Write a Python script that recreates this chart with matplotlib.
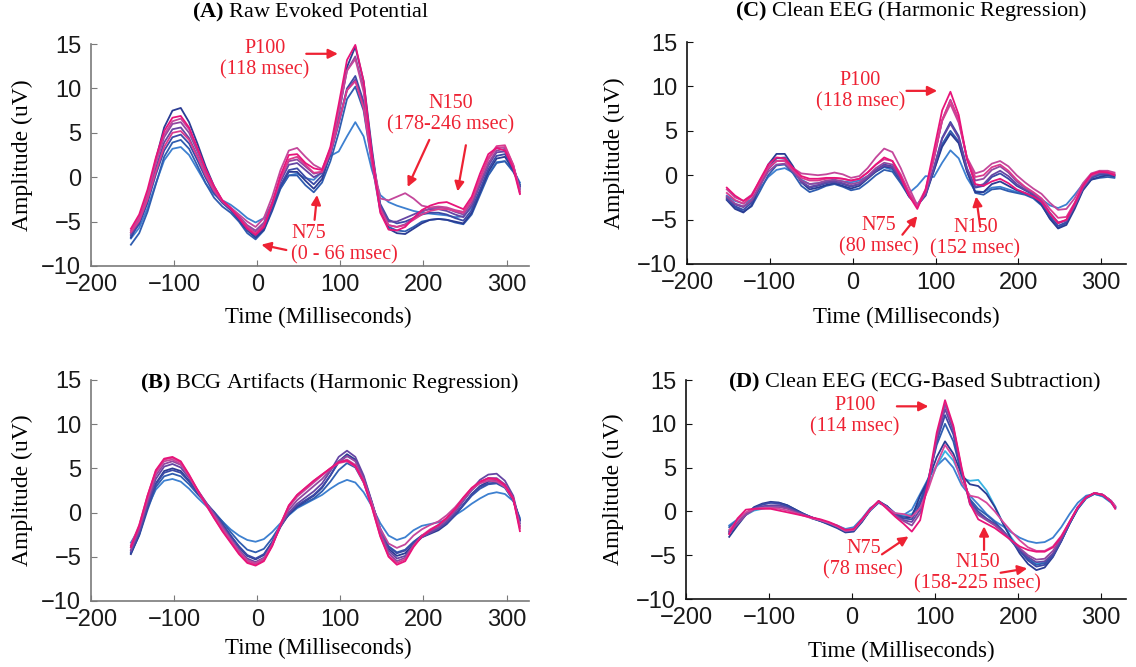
import matplotlib
matplotlib.use("Agg")
import matplotlib.pyplot as plt

plt.rcParams["mathtext.fontset"] = "custom"
plt.rcParams["mathtext.rm"] = "Liberation Serif"
plt.rcParams["mathtext.bf"] = "Liberation Serif:bold"

SANS = "Liberation Sans"
SERIF = "Liberation Serif"
RED = "#ee2233"

# sample times (ms) for panels A, B, C and for panel D
TIME = [-152, -142, -132, -122, -112, -102, -92, -82, -72, -62, -52, -42, -32, -22, -12, -2,
        8, 18, 28, 38, 48, 58, 68, 78, 88, 98, 108, 118, 128, 138, 148, 158, 168, 178, 188,
        198, 208, 218, 228, 238, 248, 258, 268, 278, 288, 298, 308, 316]
TIME_D = [-148, -138, -128, -118, -108, -98, -88, -78, -68, -58, -48, -38, -28, -18, -8, 2,
          12, 22, 32, 42, 52, 62, 72, 82, 92, 102, 112, 122, 132, 142, 152, 162, 172, 182, 192,
          202, 212, 222, 232, 242, 252, 262, 272, 282, 292, 302, 312, 317]

X_TICKS = [-200, -100, 0, 100, 200, 300]
Y_TICKS = [-10, -5, 0, 5, 10, 15]

# (A) raw evoked potential, one list per channel
RAW = [
    [-6.9, -5.7, -3.5, -0.7, 1.9, 3.2, 3.4, 2.5, 0.9, -0.7, -1.9, -2.6, -3.1, -3.8, -4.6, -5.1,
     -4.6, -3.0, -1.2, 0.2, 0.4, -0.1, -0.3, 0.6, 2.4, 2.9, 4.6, 6.2, 4.6, 0.8, -2.0, -2.8,
     -3.2, -3.5, -3.8, -4.0, -4.1, -4.2, -4.3, -4.5, -4.4, -3.4, -1.6, 0.3, 1.7, 1.8, 0.8, -0.6],
    [-7.6, -6.3, -3.9, -0.8, 2.3, 3.9, 4.2, 3.2, 1.3, -0.7, -2.3, -3.3, -4.0, -5.0, -6.3, -7.0,
     -6.0, -3.8, -1.3, 0.2, 0.2, -0.9, -1.7, -0.6, 1.8, 5.0, 8.8, 10.2, 7.5, 1.5, -3.8, -5.6,
     -6.0, -6.1, -5.6, -5.0, -4.8, -4.7, -4.8, -5.1, -5.3, -4.2, -2.0, 0.2, 1.6, 1.8, 0.6, -0.8],
    [-6.8, -5.0, -2.0, 2.0, 5.6, 7.5, 7.8, 6.2, 3.8, 1.2, -1.0, -2.7, -3.7, -4.8, -6.0, -6.8,
     -5.9, -3.6, -1.0, 0.6, 0.6, -0.4, -1.3, -0.2, 2.6, 7.0, 12.4, 14.7, 10.8, 3.2, -3.5, -5.8,
     -6.3, -6.4, -5.8, -5.2, -4.8, -4.7, -4.8, -5.0, -5.2, -4.0, -1.7, 0.6, 2.1, 2.3, 0.8, -1.0],
    [-6.6, -5.3, -2.9, 0.3, 3.0, 4.5, 4.8, 3.8, 1.9, -0.1, -1.8, -2.9, -3.7, -4.7, -5.9, -6.6,
     -5.7, -3.5, -0.9, 0.8, 1.0, 0.0, -0.8, 0.2, 2.6, 6.2, 10.0, 11.4, 8.5, 2.4, -3.0, -4.8,
     -5.2, -5.0, -4.6, -4.2, -4.0, -4.0, -4.2, -4.6, -4.9, -3.7, -1.4, 0.9, 2.4, 2.6, 1.0, -1.0],
    [-6.4, -5.0, -2.4, 1.0, 3.9, 5.4, 5.6, 4.4, 2.4, 0.2, -1.6, -2.8, -3.6, -4.5, -5.6, -6.2,
     -5.3, -3.1, -0.5, 1.4, 1.6, 0.8, 0.0, 0.5, 2.6, 6.0, 9.8, 11.0, 8.2, 2.2, -3.2, -5.0,
     -5.0, -4.6, -4.2, -3.8, -3.6, -3.6, -3.8, -4.2, -4.5, -3.2, -0.9, 1.3, 2.8, 2.9, 1.2, -1.2],
    [-6.2, -4.7, -2.0, 1.6, 4.5, 6.0, 6.2, 5.0, 2.9, 0.6, -1.3, -2.7, -3.5, -4.4, -5.4, -6.0,
     -5.1, -2.8, -0.1, 1.8, 2.0, 1.2, 0.4, 0.6, 3.0, 7.2, 12.0, 13.6, 10.0, 2.8, -3.4, -5.4,
     -5.6, -5.3, -4.6, -3.9, -3.5, -3.4, -3.5, -3.9, -4.2, -2.9, -0.6, 1.6, 3.0, 3.2, 1.3, -1.4],
    [-6.0, -4.5, -1.8, 1.7, 4.8, 6.3, 6.6, 5.4, 3.2, 0.8, -1.1, -2.6, -3.4, -4.2, -5.0, -5.6,
     -4.6, -2.2, 0.8, 3.0, 3.3, 2.3, 1.4, 0.9, 3.2, 7.4, 12.0, 13.3, 9.6, 2.2, -2.4, -2.6,
     -2.2, -1.8, -2.4, -3.2, -3.4, -3.3, -3.4, -3.7, -3.9, -2.5, -0.2, 2.0, 3.3, 3.4, 1.4, -1.6],
    [-6.2, -4.9, -2.5, 0.6, 3.4, 5.0, 5.2, 4.2, 2.3, 0.2, -1.5, -2.7, -3.5, -4.5, -5.6, -6.3,
     -5.4, -3.0, -0.2, 2.0, 2.3, 1.4, 0.5, 0.6, 2.8, 6.2, 9.8, 10.8, 7.8, 1.6, -3.6, -5.4,
     -5.6, -5.4, -4.8, -4.2, -3.8, -3.6, -3.6, -3.8, -4.0, -2.6, -0.1, 2.2, 3.5, 3.6, 1.4, -1.8],
    [-5.8, -4.2, -1.4, 2.2, 5.2, 6.7, 6.9, 5.6, 3.3, 0.9, -1.0, -2.6, -3.5, -4.6, -5.8, -6.5,
     -5.6, -3.0, 0.2, 2.5, 2.6, 1.6, 1.0, 0.8, 3.4, 8.2, 13.2, 14.9, 10.8, 2.5, -4.0, -5.9,
     -6.0, -5.6, -4.6, -3.7, -3.2, -2.9, -2.8, -3.2, -3.6, -2.2, 0.4, 2.6, 3.3, 3.0, 1.0, -1.9],
]

# (B) BCG artifacts estimated by harmonic regression
BCG = [
    [-3.4, -1.8, 0.6, 2.6, 3.6, 3.8, 3.5, 2.7, 1.7, 0.8, -0.1, -1.0, -1.9, -2.6, -3.1, -3.3,
     -3.0, -2.2, -1.2, -0.3, 0.5, 1.0, 1.5, 2.0, 2.7, 3.3, 3.7, 3.4, 2.3, 0.7, -1.2, -2.6,
     -3.1, -2.8, -2.0, -1.5, -1.3, -1.1, -0.8, -0.3, 0.3, 1.0, 1.6, 2.1, 2.3, 2.1, 1.3, -0.6],
    [-4.6, -2.6, 0.3, 2.9, 4.1, 4.4, 4.1, 3.2, 2.1, 1.1, 0.1, -1.0, -2.2, -3.3, -4.2, -4.5,
     -4.1, -2.9, -1.4, -0.2, 0.6, 1.1, 1.6, 2.4, 3.5, 4.8, 5.6, 5.1, 3.4, 0.9, -1.8, -3.8,
     -4.5, -4.2, -3.3, -2.6, -2.2, -1.8, -1.2, -0.3, 0.8, 1.9, 2.7, 3.2, 3.3, 2.8, 1.4, -0.8],
    [-4.7, -2.5, 0.6, 3.3, 4.7, 5.0, 4.7, 3.6, 2.3, 1.1, 0.0, -1.3, -2.6, -3.9, -4.9, -5.3,
     -4.8, -3.4, -1.6, -0.2, 0.7, 1.3, 1.9, 2.8, 4.2, 5.8, 6.6, 6.0, 4.0, 1.1, -2.0, -4.1,
     -4.9, -4.6, -3.6, -2.8, -2.4, -2.0, -1.3, -0.3, 0.9, 2.1, 3.0, 3.5, 3.6, 3.0, 1.5, -0.9],
    [-4.5, -2.4, 0.6, 3.2, 4.5, 4.8, 4.5, 3.5, 2.3, 1.1, 0.0, -1.3, -2.6, -3.8, -4.8, -5.2,
     -4.7, -3.3, -1.5, -0.1, 0.8, 1.4, 2.0, 2.9, 4.2, 5.7, 6.4, 5.9, 3.9, 1.1, -1.9, -3.9,
     -4.6, -4.3, -3.4, -2.6, -2.2, -1.8, -1.2, -0.3, 0.9, 2.0, 2.9, 3.3, 3.4, 2.9, 1.4, -0.9],
    [-4.3, -2.1, 1.0, 3.8, 5.2, 5.5, 5.1, 3.9, 2.5, 1.2, -0.1, -1.5, -2.9, -4.2, -5.2, -5.6,
     -5.1, -3.6, -1.6, 0.0, 1.0, 1.7, 2.4, 3.3, 4.7, 6.3, 7.0, 6.3, 4.2, 1.2, -2.0, -4.3,
     -5.2, -4.9, -3.7, -2.8, -2.3, -1.8, -1.0, 0.0, 1.3, 2.6, 3.7, 4.3, 4.4, 3.6, 1.9, -1.2],
    [-4.2, -1.9, 1.3, 4.2, 5.5, 5.8, 5.4, 4.1, 2.6, 1.2, -0.2, -1.6, -3.0, -4.3, -5.4, -5.8,
     -5.3, -3.7, -1.5, 0.3, 1.4, 2.2, 3.0, 3.8, 4.8, 5.8, 6.4, 5.8, 3.8, 1.0, -2.2, -4.6,
     -5.5, -5.1, -3.7, -2.7, -2.1, -1.6, -0.8, 0.2, 1.4, 2.5, 3.4, 3.9, 3.9, 3.2, 1.7, -1.5],
    [-3.9, -1.6, 1.6, 4.5, 5.8, 6.0, 5.5, 4.1, 2.5, 1.0, -0.4, -1.8, -3.1, -4.4, -5.4, -5.7,
     -5.2, -3.6, -1.3, 0.6, 1.8, 2.6, 3.4, 4.2, 5.0, 5.7, 6.0, 5.4, 3.6, 1.0, -1.8, -3.5,
     -4.0, -3.6, -2.6, -1.9, -1.4, -1.0, -0.3, 0.6, 1.7, 2.7, 3.3, 3.6, 3.5, 2.9, 1.5, -1.6],
    [-3.7, -1.4, 1.9, 4.7, 6.0, 6.2, 5.7, 4.2, 2.5, 0.9, -0.6, -2.0, -3.3, -4.6, -5.6, -5.9,
     -5.4, -3.7, -1.3, 0.8, 2.0, 2.8, 3.6, 4.3, 5.0, 5.6, 5.8, 5.2, 3.4, 0.6, -2.6, -4.9,
     -5.7, -5.3, -3.8, -2.6, -1.9, -1.4, -0.6, 0.4, 1.6, 2.7, 3.4, 3.8, 3.7, 3.0, 1.6, -1.8],
    [-3.9, -1.5, 1.9, 4.8, 6.1, 6.3, 5.8, 4.3, 2.6, 1.0, -0.6, -2.1, -3.4, -4.7, -5.7, -6.0,
     -5.5, -3.8, -1.4, 0.8, 2.0, 2.8, 3.6, 4.3, 5.0, 5.7, 5.9, 5.3, 3.5, 0.6, -2.7, -5.0,
     -5.9, -5.5, -3.9, -2.7, -2.0, -1.4, -0.6, 0.4, 1.7, 2.8, 3.5, 3.9, 3.8, 3.1, 1.6, -2.1],
]

# (C) clean EEG after harmonic regression
CLEAN_HR = [
    [-2.3, -2.9, -3.2, -2.7, -1.5, -0.2, 0.6, 0.8, 0.3, -0.5, -1.0, -0.9, -0.7, -0.6, -0.7, -0.8,
     -0.6, -0.1, 0.4, 0.9, 0.6, -0.6, -2.0, -1.2, -0.1, -0.2, 1.4, 2.8, 1.9, -0.3, -1.8, -1.9,
     -1.4, -1.3, -1.6, -1.9, -2.1, -2.3, -2.7, -3.4, -3.7, -3.3, -2.2, -1.0, -0.3, 0.0, 0.0, -0.2],
    [-2.6, -3.6, -4.1, -3.5, -1.8, 0.0, 1.1, 1.2, 0.2, -1.2, -1.9, -1.6, -1.2, -1.0, -1.3, -1.7,
     -1.5, -0.8, 0.0, 0.6, 0.4, -0.9, -2.4, -3.3, -2.0, 0.5, 3.5, 5.0, 3.8, 0.5, -2.0, -2.2,
     -1.6, -1.5, -1.8, -2.0, -2.2, -2.6, -3.4, -4.8, -5.9, -5.4, -3.6, -1.6, -0.5, -0.3, -0.2, -0.3],
    [-2.8, -3.8, -4.2, -3.4, -1.2, 1.2, 2.4, 2.4, 1.0, -0.8, -1.6, -1.4, -1.1, -0.9, -1.2, -1.5,
     -1.2, -0.4, 0.4, 1.0, 0.8, -0.6, -2.4, -3.4, -2.3, 0.5, 3.2, 4.7, 3.6, 0.4, -1.9, -1.9,
     -1.0, -0.7, -1.2, -1.7, -2.0, -2.4, -3.3, -4.9, -6.0, -5.6, -3.8, -1.7, -0.5, -0.2, 0.0, -0.1],
    [-2.7, -3.5, -3.9, -3.1, -1.2, 0.8, 1.9, 2.0, 0.8, -0.7, -1.4, -1.2, -0.9, -0.8, -1.0, -1.3,
     -1.0, -0.2, 0.6, 1.2, 1.0, -0.4, -2.2, -3.3, -2.2, 0.8, 4.2, 6.0, 4.4, 0.8, -1.4, -1.2,
     -0.2, 0.2, -0.4, -1.2, -1.7, -2.2, -3.1, -4.6, -5.7, -5.3, -3.5, -1.5, -0.3, 0.1, 0.1, 0.0],
    [-2.5, -3.3, -3.6, -2.9, -1.1, 0.7, 1.6, 1.7, 0.6, -0.8, -1.3, -1.1, -0.8, -0.7, -0.9, -1.2,
     -1.0, -0.3, 0.5, 1.1, 0.9, -0.5, -2.3, -3.4, -2.2, 0.8, 4.1, 5.8, 4.2, 0.7, -1.3, -1.0,
     0.0, 0.5, -0.1, -1.0, -1.6, -2.1, -2.9, -4.3, -5.4, -5.1, -3.4, -1.4, -0.2, 0.2, 0.2, 0.0],
    [-2.4, -3.2, -3.5, -2.8, -1.2, 0.4, 1.2, 1.3, 0.4, -0.6, -1.0, -0.9, -0.6, -0.5, -0.7, -1.0,
     -0.8, -0.1, 0.8, 1.4, 1.2, -0.2, -2.1, -3.5, -1.9, 1.8, 6.2, 8.5, 6.3, 1.8, -0.6, -0.4,
     0.6, 1.0, 0.3, -0.7, -1.4, -2.0, -2.8, -4.2, -5.3, -5.1, -3.4, -1.4, -0.1, 0.3, 0.3, 0.1],
    [-1.6, -2.5, -2.9, -2.2, -0.6, 0.9, 1.6, 1.6, 0.8, 0.2, 0.1, 0.0, 0.1, 0.3, 0.1, -0.3,
     -0.1, 0.8, 2.0, 3.0, 2.6, 0.8, -1.4, -3.4, -1.6, 2.0, 6.1, 8.0, 5.9, 2.0, 0.2, 0.5,
     1.3, 1.6, 1.0, 0.0, -0.8, -1.5, -2.1, -3.1, -3.9, -3.8, -2.6, -0.9, 0.2, 0.5, 0.5, 0.3],
    [-2.0, -2.8, -3.2, -2.4, -0.8, 0.8, 1.6, 1.6, 0.6, -0.3, -0.6, -0.6, -0.4, -0.3, -0.4, -0.6,
     -0.4, 0.3, 1.2, 1.8, 1.6, 0.1, -1.9, -3.6, -1.8, 1.9, 6.2, 8.4, 6.2, 1.9, -0.2, 0.0,
     0.9, 1.2, 0.5, -0.5, -1.3, -1.9, -2.6, -3.8, -4.8, -4.7, -3.1, -1.2, 0.0, 0.4, 0.4, 0.2],
    [-1.4, -2.3, -2.9, -2.3, -0.5, 1.2, 2.0, 1.9, 0.8, -0.1, -0.4, -0.4, -0.3, -0.3, -0.4, -0.6,
     -0.4, 0.3, 1.2, 2.0, 1.6, -0.2, -2.3, -3.8, -1.6, 2.8, 7.3, 9.4, 6.8, 1.8, -1.0, -1.2,
     -0.7, -0.4, -0.9, -1.6, -2.0, -2.4, -3.0, -4.3, -5.4, -5.0, -3.2, -1.2, 0.1, 0.4, 0.3, 0.0],
]

# (D) clean EEG after ECG-based subtraction (sampled on TIME_D)
CLEAN_ECG = [
    [-1.6, -0.9, -0.2, 0.2, 0.4, 0.6, 0.7, 0.5, 0.1, -0.3, -0.7, -1.0, -1.3, -1.6, -2.0, -1.8,
     -0.8, 0.4, 1.0, 0.5, -0.3, -0.4, 0.2, 2.0, 3.8, 5.2, 6.1, 5.0, 3.0, 1.8, 0.8, -0.3,
     -1.1, -1.7, -2.4, -3.0, -3.4, -3.6, -3.5, -3.0, -1.8, -0.3, 1.0, 1.8, 2.0, 1.7, 1.0, 0.4],
    [-2.2, -1.3, -0.4, 0.1, 0.3, 0.5, 0.6, 0.4, 0.0, -0.4, -0.8, -1.1, -1.4, -1.7, -2.1, -2.0,
     -1.0, 0.2, 1.0, 0.6, -0.2, -0.4, -0.3, 1.0, 3.0, 5.2, 6.9, 5.8, 3.8, 3.5, 3.6, 2.4,
     0.6, -1.4, -3.0, -4.3, -5.3, -6.0, -5.8, -4.9, -3.3, -1.4, 0.3, 1.5, 2.0, 1.8, 1.1, 0.4],
    [-1.8, -1.0, -0.2, 0.4, 0.8, 1.0, 1.0, 0.7, 0.2, -0.3, -0.7, -1.0, -1.4, -1.7, -2.2, -2.1,
     -1.1, 0.1, 1.0, 0.6, -0.3, -0.6, -0.5, 1.2, 3.8, 7.6, 10.0, 8.0, 4.2, 1.4, 0.3, -0.4,
     -1.2, -2.2, -3.3, -4.4, -5.4, -6.1, -5.9, -4.9, -3.3, -1.4, 0.3, 1.5, 2.0, 1.8, 1.1, 0.4],
    [-2.9, -1.6, -0.4, 0.5, 0.9, 1.1, 1.0, 0.7, 0.2, -0.3, -0.8, -1.1, -1.5, -1.9, -2.4, -2.3,
     -1.2, 0.2, 1.2, 0.6, -0.4, -0.8, -0.6, 1.8, 3.6, 6.2, 8.0, 6.6, 4.2, 3.1, 2.9, 2.0,
     0.5, -1.4, -3.2, -4.8, -6.0, -6.7, -6.4, -5.2, -3.4, -1.4, 0.4, 1.6, 2.1, 1.9, 1.2, 0.5],
    [-2.5, -1.4, -0.3, 0.4, 0.8, 1.0, 0.9, 0.6, 0.1, -0.3, -0.7, -1.1, -1.4, -1.8, -2.3, -2.2,
     -1.1, 0.2, 1.1, 0.6, -0.3, -0.8, -0.9, 0.8, 3.6, 8.0, 11.0, 8.8, 4.4, 1.2, 0.0, -0.8,
     -1.4, -2.3, -3.4, -4.5, -5.6, -6.3, -6.1, -5.1, -3.4, -1.4, 0.4, 1.6, 2.1, 1.9, 1.2, 0.5],
    [-2.3, -1.3, -0.3, 0.3, 0.6, 0.7, 0.7, 0.4, 0.0, -0.4, -0.7, -1.0, -1.3, -1.7, -2.2, -2.1,
     -1.0, 0.2, 1.1, 0.6, -0.4, -1.0, -1.2, 0.2, 3.2, 8.2, 11.7, 9.2, 4.6, 1.0, -0.2, -0.9,
     -1.5, -2.3, -3.3, -4.3, -5.2, -5.8, -5.7, -4.8, -3.2, -1.3, 0.4, 1.6, 2.1, 1.9, 1.2, 0.6],
    [-2.4, -1.4, -0.4, 0.2, 0.4, 0.5, 0.5, 0.3, -0.1, -0.4, -0.7, -1.0, -1.3, -1.7, -2.2, -2.1,
     -1.0, 0.2, 1.1, 0.5, -0.5, -1.1, -1.6, -0.2, 3.0, 8.5, 12.2, 9.6, 4.8, 0.8, -0.4, -1.0,
     -1.6, -2.4, -3.3, -4.2, -5.0, -5.5, -5.4, -4.5, -3.0, -1.2, 0.5, 1.6, 2.1, 1.9, 1.2, 0.6],
    [-2.1, -1.0, -0.1, 0.3, 0.4, 0.4, 0.3, 0.1, -0.2, -0.5, -0.8, -1.0, -1.3, -1.7, -2.2, -2.1,
     -1.0, 0.2, 1.1, 0.4, -0.2, -0.3, -0.6, 0.4, 2.6, 5.4, 7.6, 6.2, 3.4, 1.8, 1.6, 1.0,
     0.0, -1.2, -2.3, -3.3, -4.1, -4.5, -4.5, -4.0, -2.8, -1.2, 0.5, 1.6, 2.1, 1.9, 1.2, 0.6],
    [-2.6, -0.8, 0.2, 0.3, 0.3, 0.3, 0.1, -0.1, -0.3, -0.5, -0.7, -0.9, -1.2, -1.6, -2.1, -2.0,
     -0.9, 0.3, 1.2, 0.3, -0.6, -1.4, -2.3, -1.0, 3.5, 9.0, 12.7, 9.8, 5.0, 0.9, -0.9, -1.4,
     -1.9, -2.6, -3.3, -4.0, -4.4, -4.6, -4.6, -4.1, -2.9, -1.2, 0.5, 1.6, 2.1, 1.9, 1.1, 0.3],
]

COLORS = ["#3d80d0", "#2f5db0", "#2a3c93", "#3b4aa6", "#6546a4", "#9148a0", "#c4479b", "#db3a8e", "#e8147a"]
COLORS_D = ["#3d80d0", "#38b2e2", "#2f5db0", "#2a3c93", "#3b4aa6", "#6546a4", "#9148a0", "#d6479c", "#e8147a"]


def setup(ax, spine_color, xmax):
    for s in ("top", "right"):
        ax.spines[s].set_visible(False)
    for s in ("left", "bottom"):
        ax.spines[s].set_color(spine_color)
        ax.spines[s].set_linewidth(1.2)
    ax.set_xlim(-200, xmax)
    ax.set_ylim(-10, 15)
    ax.set_xticks(X_TICKS)
    ax.set_yticks(Y_TICKS)
    ax.set_xticklabels([f"\u2212{-v}" if v < 0 else str(v) for v in X_TICKS])
    ax.set_yticklabels([f"\u2212{-v}" if v < 0 else str(v) for v in Y_TICKS])
    ax.tick_params(direction="in", length=4, color=spine_color, labelcolor="#1a1a1a")
    ax.tick_params(axis="x", pad=6)
    ax.tick_params(axis="y", pad=7)
    for lab in ax.get_xticklabels() + ax.get_yticklabels():
        lab.set_fontfamily(SANS)
        lab.set_fontsize(17)
    ax.set_xlabel("Time (Milliseconds)", family=SERIF, fontsize=16.5)
    ax.set_ylabel("Amplitude (uV)", family=SERIF, fontsize=17)


def note(ax, text, x, y, ha="center"):
    ax.text(x, y, text, color=RED, family=SERIF, fontsize=14.5, ha=ha, va="center",
            multialignment=ha, linespacing=1.15)


def arrow(ax, x0, y0, x1, y1):
    ax.annotate("", xy=(x1, y1), xytext=(x0, y0),
                arrowprops=dict(arrowstyle="-|>", color=RED, lw=1.6, mutation_scale=14,
                                shrinkA=0, shrinkB=0))


fig = plt.figure(figsize=(11.36, 6.67), dpi=100)
axA = fig.add_axes([0.0801, 0.6012, 0.3856, 0.3328])
axC = fig.add_axes([0.6048, 0.6042, 0.3864, 0.3328])
axB = fig.add_axes([0.0801, 0.0990, 0.3856, 0.3313])
axD = fig.add_axes([0.6039, 0.1019, 0.3873, 0.3283])

for ax, curves, t, cols in [(axA, RAW, TIME, COLORS), (axB, BCG, TIME, COLORS),
                            (axC, CLEAN_HR, TIME, COLORS), (axD, CLEAN_ECG, TIME_D, COLORS_D)]:
    for y, c in zip(curves, cols):
        ax.plot(t, y, color=c, lw=1.3, solid_joinstyle="round")

setup(axA, "#7a7a7a", 327)
setup(axB, "#7a7a7a", 327)
setup(axC, "#111111", 330)
setup(axD, "#111111", 330)
for ax in (axA, axB):
    ax.yaxis.set_label_coords(-0.133, 0.5)
for ax in (axC, axD):
    ax.yaxis.set_label_coords(-0.141, 0.5)
axA.xaxis.set_label_coords(0.52, -0.185)
axC.xaxis.set_label_coords(0.5, -0.194)
axB.xaxis.set_label_coords(0.52, -0.167)
axD.xaxis.set_label_coords(0.49, -0.19)

title_kw = dict(family=SERIF, fontsize=16, ha="center", va="center")
axA.text(0.5, 1.14, r"$\mathbf{(A)}$ Raw Evoked Potential", transform=axA.transAxes, **title_kw)
axC.text(0.51, 1.14, r"$\mathbf{(C)}$ Clean EEG (Harmonic Regression)", transform=axC.transAxes, **title_kw)
axB.text(0.545, 0.985, r"$\mathbf{(B)}$ BCG Artifacts (Harmonic Regression)", transform=axB.transAxes, **title_kw)
axD.text(0.52, 0.99, r"$\mathbf{(D)}$ Clean EEG (ECG-Based Subtraction)", transform=axD.transAxes, **title_kw)

# (A) annotations
note(axA, "P100\n(118 msec)", 9, 13.3)
arrow(axA, 59, 13.9, 97, 13.9)
note(axA, "N150\n(178-246 msec)", 233, 7.1)
arrow(axA, 207, 4.2, 181, -1.1)
arrow(axA, 251, 3.6, 241, -1.6)
note(axA, "N75\n(0 - 66 msec)", 40.8, -7.6, ha="left")
arrow(axA, 69, -4.8, 72, -2.0)
arrow(axA, 35, -8.2, 5, -7.6)

# (C) annotations
note(axC, "P100\n(118 msec)", 9, 9.5)
arrow(axC, 65, 9.5, 102, 9.5)
note(axC, "N75\n(80 msec)", 32, -6.9)
arrow(axC, 60, -6.7, 78, -4.6)
note(axC, "N150\n(152 msec)", 148, -7.1)
arrow(axC, 154, -5.8, 149, -2.4)

# (D) annotations
note(axD, "P100\n(114 msec)", 3.6, 10.85)
arrow(axD, 54, 12.0, 92, 12.0)
note(axD, "N75\n(78 msec)", 13.7, -5.5)
arrow(axD, 36, -4.9, 68, -2.85)
note(axD, "N150\n(158-225 msec)", 151, -7.05)
arrow(axD, 159, -4.4, 159, -1.7)
arrow(axD, 179, -7.0, 211, -6.5)

fig.savefig("out.png", dpi=100)
